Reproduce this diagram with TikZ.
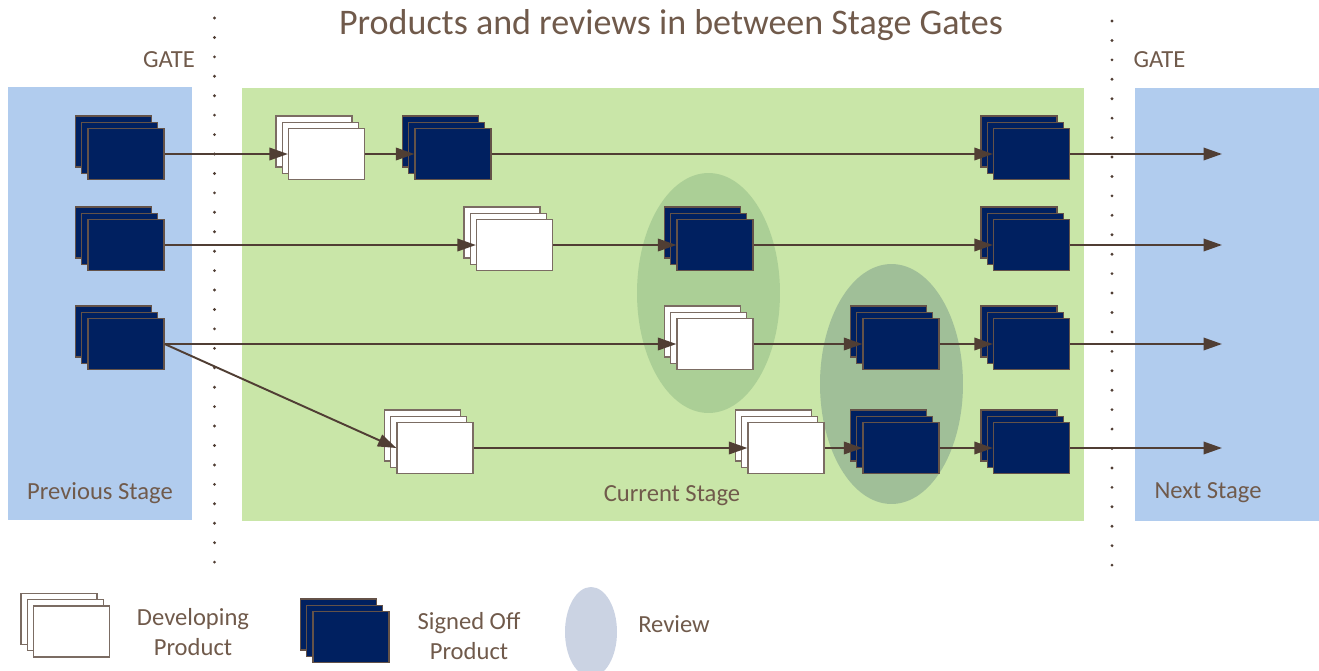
\documentclass[tikz,border=0pt]{standalone}
\usepackage{fontspec}
\setmainfont{Carlito}
\usetikzlibrary{arrows.meta,shadows,shapes.geometric}
\definecolor{stageblue}{RGB}{177,204,238}
\definecolor{stagegreen}{RGB}{201,230,168}
\definecolor{prodnavy}{RGB}{0,32,96}
\definecolor{edgebrown}{RGB}{100,82,72}
\definecolor{arrowbrown}{RGB}{80,62,52}
\definecolor{labelbrown}{RGB}{112,90,75}
\definecolor{reviewa}{RGB}{171,207,150}
\definecolor{reviewb}{RGB}{160,191,152}
\definecolor{reviewkey}{RGB}{203,211,227}

\begin{document}
\begin{tikzpicture}[x=0.02cm,y=-0.02cm,>={Triangle[length=0.37cm,width=0.25cm]},
  signed/.style={draw=edgebrown,line width=0.7pt,fill=prodnavy,minimum width=1.52cm,minimum height=1.02cm,inner sep=0pt,
    copy shadow={draw=edgebrown,line width=0.7pt,fill=prodnavy,shadow xshift=-0.25cm,shadow yshift=0.25cm},
    copy shadow={draw=edgebrown,line width=0.7pt,fill=prodnavy,shadow xshift=-0.125cm,shadow yshift=0.125cm}},
  developing/.style={draw=edgebrown!85,line width=0.7pt,fill=white,minimum width=1.52cm,minimum height=1.02cm,inner sep=0pt,
    copy shadow={draw=edgebrown!85,line width=0.7pt,fill=white,shadow xshift=-0.25cm,shadow yshift=0.25cm},
    copy shadow={draw=edgebrown!85,line width=0.7pt,fill=white,shadow xshift=-0.125cm,shadow yshift=0.125cm}},
  review/.style={ellipse,inner sep=0pt,minimum width=2.86cm,minimum height=4.8cm},
  flow/.style={->,draw=arrowbrown,line width=1.1pt},
  gate/.style={draw=arrowbrown,line width=1.8pt,line cap=round,dash pattern=on 0pt off 11.06pt},
  lbl/.style={text=labelbrown,inner sep=0pt,font=\fontsize{14}{17}\selectfont}]
\useasboundingbox (0,0) rectangle (1319,670);
\fill[stageblue] (8,87) rectangle (192,520);
\fill[stagegreen] (242,88) rectangle (1084,521);
\fill[stageblue] (1135,88) rectangle (1319,521);
\draw[gate] (214.5,18) -- (214.5,566);
\draw[gate] (1112,21) -- (1112,569);
\node[review,fill=reviewa] (rev1) at (708.5,293) {};
\node[review,fill=reviewb] (rev2) at (891.5,384) {};
\node[lbl,font=\fontsize{20.5}{24}\selectfont] (title) at (671,25) {Products and reviews in between Stage Gates};
\node[lbl] (gateA) at (169,60) {GATE};
\node[lbl] (gateB) at (1159.5,60) {GATE};
\node[lbl] (prevlbl) at (100,493) {Previous Stage};
\node[lbl] (curlbl) at (672,496) {Current Stage};
\node[lbl] (nextlbl) at (1208,493) {Next Stage};
\node[signed] (prev1) at (126,154) {};
\node[signed] (prev2) at (126,245) {};
\node[signed] (prev3) at (126,344) {};
\node[developing] (dev1) at (326.5,154) {};
\node[signed] (sig1) at (453,154) {};
\node[developing] (dev2) at (514.5,245) {};
\node[signed] (sig2) at (715,245) {};
\node[developing] (dev3) at (715,344) {};
\node[signed] (sig3) at (901,344) {};
\node[developing] (dev4) at (435,448) {};
\node[developing] (dev5) at (786,448) {};
\node[signed] (sig4) at (901,448) {};
\node[signed] (out1) at (1031.5,154) {};
\node[signed] (out2) at (1031.5,245) {};
\node[signed] (out3) at (1031.5,344) {};
\node[signed] (out4) at (1031.5,448) {};
\coordinate (end1) at (1222,154);
\coordinate (end2) at (1222,245);
\coordinate (end3) at (1222,344);
\coordinate (end4) at (1222,448);
\draw[flow] (prev1.east) -- (dev1.west);
\draw[flow] (dev1.east) -- (sig1.west);
\draw[flow] (sig1.east) -- (out1.west);
\draw[flow] (out1.east) -- (end1);
\draw[flow] (prev2.east) -- (dev2.west);
\draw[flow] (dev2.east) -- (sig2.west);
\draw[flow] (sig2.east) -- (out2.west);
\draw[flow] (out2.east) -- (end2);
\draw[flow] (prev3.east) -- (dev3.west);
\draw[flow] (dev3.east) -- (sig3.west);
\draw[flow] (sig3.east) -- (out3.west);
\draw[flow] (out3.east) -- (end3);
\draw[flow] (prev3.east) -- (dev4.west);
\draw[flow] (dev4.east) -- (dev5.west);
\draw[flow] (dev5.east) -- (sig4.west);
\draw[flow] (sig4.east) -- (out4.west);
\draw[flow] (out4.east) -- (end4);
\node[developing] (keydev) at (71.5,631.5) {};
\node[lbl,align=center] (keydevlbl) at (193,632) {Developing\\Product};
\node[signed] (keysig) at (351,637) {};
\node[lbl,align=center] (keysiglbl) at (469,636) {Signed Off\\Product};
\node[ellipse,inner sep=0pt,minimum width=1.04cm,minimum height=1.8cm,fill=reviewkey] (keyrev) at (591,632) {};
\node[lbl] (keyrevlbl) at (674,624) {Review};
\end{tikzpicture}
\end{document}
